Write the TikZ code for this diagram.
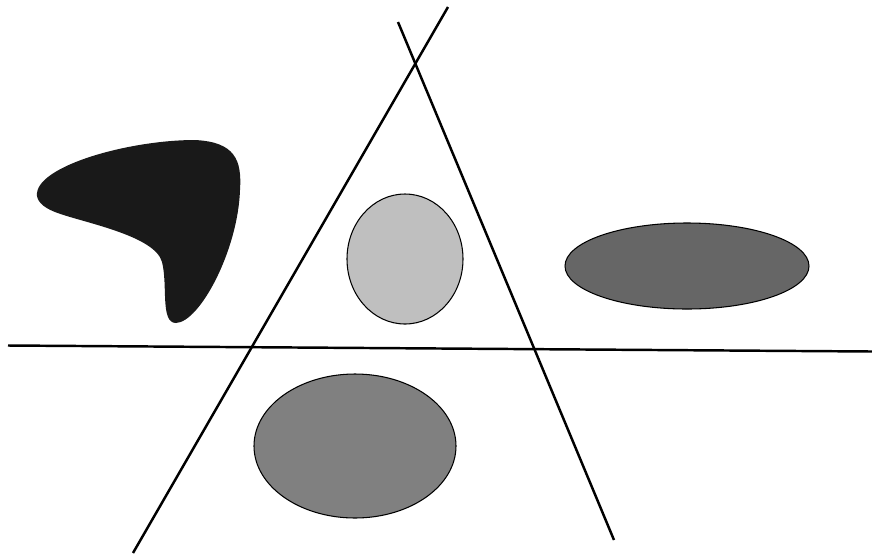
\documentclass[tikz,border=0pt]{standalone}
\usepackage{tikz}
\usetikzlibrary{positioning,calc}

\begin{document}
\begin{tikzpicture}[
  x=0.01cm, y=-0.01cm,
  cut/.style={line width=0.7pt},
  blob/.style={draw=black, line width=0.3pt}
]
\useasboundingbox (0,0) rectangle (872,557);
% the three cutting lines
\coordinate (l1a) at (133,553);
\coordinate (l1b) at (448,7);
\coordinate (l2a) at (398,22);
\coordinate (l2b) at (614,540);
\coordinate (h1) at (8,345.5);
\coordinate (h2) at (872,351.5);
\draw[cut] (l1a) -- (l1b);
\draw[cut] (l2a) -- (l2b);
\draw[cut] (h1) -- (h2);
% regions
\draw[blob, fill=black!25] (405,259) ellipse [x radius=58, y radius=65];
\draw[blob, fill=black!60] (687,266) ellipse [x radius=122, y radius=43];
\draw[blob, fill=black!50] (355,446) ellipse [x radius=101, y radius=72];
% dark shape
\fill[black!90] (37,193)
  .. controls (40,165) and (130,140) .. (195,140)
  .. controls (235,142) and (242,160) .. (240,190)
  .. controls (238,250) and (200,322) .. (176,323)
  .. controls (160,323) and (168,285) .. (162,262)
  .. controls (155,235) and (80,222) .. (55,212)
  .. controls (42,207) and (36,200) .. (37,193) -- cycle;
\end{tikzpicture}
\end{document}
